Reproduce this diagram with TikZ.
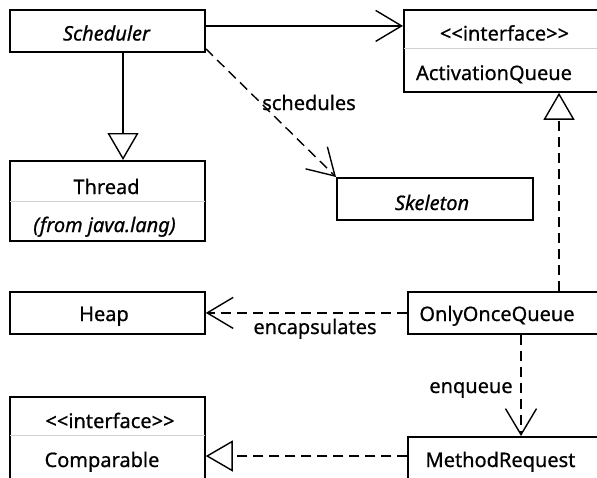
\documentclass[tikz,border=0pt]{standalone}
\usepackage{fontspec}
\setmainfont{Noto Sans}[FakeBold=0.7]
\usetikzlibrary{arrows.meta}
\begin{document}
\begin{tikzpicture}[x=1pt,y=-1pt,
  box/.style={draw, line width=1.8pt, fill=white, inner sep=0pt, anchor=north west},
  txt/.style={anchor=base, inner sep=0pt, font=\fontsize{20}{24}\selectfont},
  itxt/.style={anchor=base, inner sep=0pt, font=\fontsize{20}{24}\selectfont\itshape},
  conn/.style={line width=1.4pt},
  dashline/.style={dash pattern=on 10pt off 6pt},
  opentip/.style={-{Straight Barb[length=26pt,width=31pt,line width=1.4pt]}},
  realtip/.style={-{Triangle[open,length=27pt,width=31pt,line width=1.4pt,fill=white]}},
  divider/.style={line width=0.8pt, draw=black!18, shorten <=1pt, shorten >=1pt}
]
\useasboundingbox (0,0) rectangle (597,477);
\clip (0,0) rectangle (597,477);

% class boxes
\node[box, minimum width=195pt, minimum height=42pt] (sched) at (9,9) {};
\node[box, minimum width=210pt, minimum height=82pt] (actq) at (403,9) {};
\node[box, minimum width=195pt, minimum height=80pt] (thread) at (9,160) {};
\node[box, minimum width=196pt, minimum height=42pt] (skel) at (336,177) {};
\node[box, minimum width=195pt, minimum height=42pt] (heap) at (9,291) {};
\node[box, minimum width=210pt, minimum height=42pt] (ooq) at (407,291) {};
\node[box, minimum width=195pt, minimum height=100pt] (comp) at (9,396) {};
\node[box, minimum width=210pt, minimum height=60pt] (mreq) at (407,436) {};

% compartment dividers
\draw[divider] ([yshift=-39pt]actq.north west) -- ([yshift=-39pt]actq.north east);
\draw[divider] ([yshift=-41pt]thread.north west) -- ([yshift=-41pt]thread.north east);
\draw[divider] ([yshift=-39pt]comp.north west) -- ([yshift=-39pt]comp.north east);

% class texts
\node[itxt] (schedName) at (106.5,40.5) {Scheduler};
\node[txt] (actqStereo) at (504.5,40.5) {<{}<interface>{}>};
\node[txt] (actqName) at (494,80) {ActivationQueue};
\node[txt] (threadName) at (106.5,194) {Thread};
\node[itxt] (threadPkg) at (104.5,232) {(from java.lang)};
\node[itxt] (skelName) at (432,210) {Skeleton};
\node[txt] (heapName) at (104,321) {Heap};
\node[txt] (ooqName) at (497,321) {OnlyOnceQueue};
\node[txt] (compStereo) at (110,428) {<{}<interface>{}>};
\node[txt] (compName) at (102,467) {Comparable};
\node[txt] (mreqName) at (500.5,467) {MethodRequest};

% relationships
\draw[conn, realtip] ([xshift=114pt]sched.south west) -- ([xshift=114pt]thread.north west);
\draw[conn, opentip] ([yshift=5pt]sched.east) -- ([yshift=5pt]sched.east -| actq.west);
\draw[conn, dashline, opentip] ([yshift=4pt]sched.south east) -- (skel.north west);
\draw[conn, dashline, realtip] ([xshift=152pt]ooq.north west) -- ([xshift=152pt]ooq.north west |- actq.south);
\draw[conn, dashline, opentip] (ooq.west) -- (heap.east);
\draw[conn, dashline, opentip] ([xshift=114pt]ooq.south west) -- ([xshift=114pt]ooq.south west |- mreq.north);
\draw[conn, dashline, realtip] ([yshift=-20pt]mreq.north west) -- ([yshift=-20pt]mreq.north west -| comp.east);

% relationship labels
\node[txt] (lblSchedules) at (309,110) {schedules};
\node[txt] (lblEncaps) at (315,334) {encapsulates};
\node[txt] (lblEnqueue) at (471,393) {enqueue};
\end{tikzpicture}
\end{document}
